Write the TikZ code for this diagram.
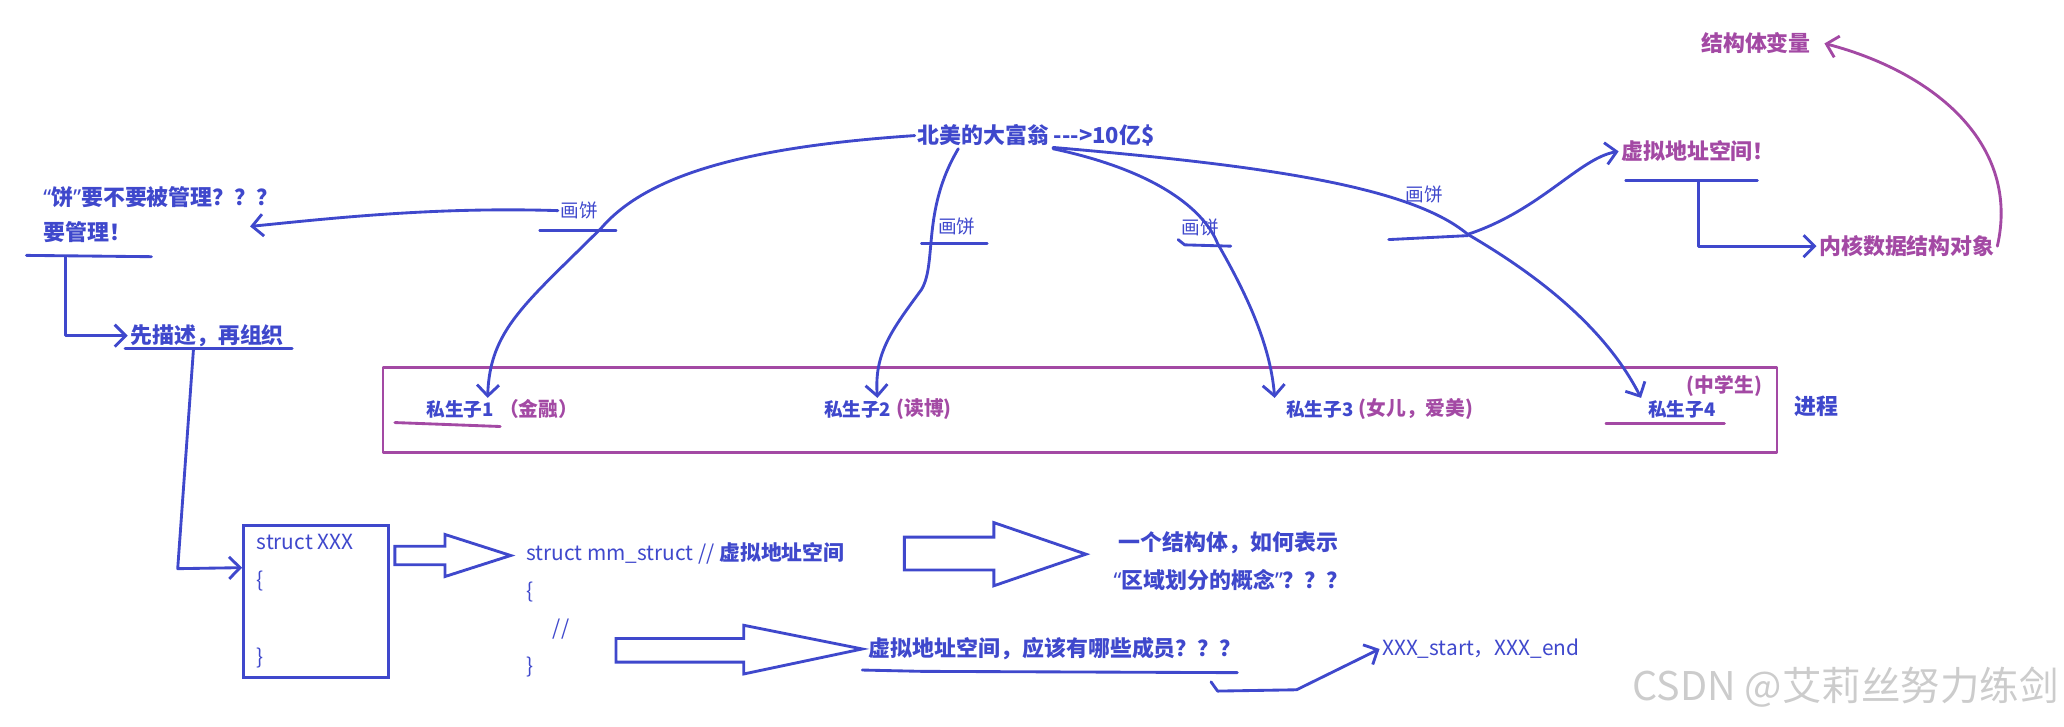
\documentclass[tikz,border=0pt]{standalone}
\usepackage{fontspec}
\setmainfont{Noto Sans CJK SC}[Ligatures=TeXOff]
\newfontfamily\latinq{Noto Sans}
\usetikzlibrary{arrows.meta,positioning,calc}
\definecolor{inkblue}{RGB}{63,72,204}
\definecolor{inkpurple}{RGB}{163,73,164}

\begin{document}
\begin{tikzpicture}[
  x=0.6pt, y=-0.6pt,
  >={Straight Barb[length=5pt,width=10pt]},
  every node/.style={inner sep=1pt, font=\fontsize{10}{12}\selectfont\bfseries},
  pen/.style={draw=inkblue, line width=1.3pt, line cap=round, line join=round},
  ppen/.style={draw=inkpurple, line width=1.3pt, line cap=round, line join=round},
  btxt/.style={text=inkblue},
  ptxt/.style={text=inkpurple},
  kid/.style={text=inkblue, font=\fontsize{8.5}{10}\selectfont\bfseries},
  kidnote/.style={text=inkpurple, font=\fontsize{9}{11}\selectfont\bfseries},
  pie/.style={text=inkblue, font=\fontsize{8.5}{10}\selectfont},
  codeline/.style={text=inkblue, anchor=west, font=\fontsize{9.5}{11}\selectfont},
  hollow/.style={draw=inkblue, line width=1.3pt, line join=miter}
]
  \useasboundingbox (0,0) rectangle (1568,552);

  % top: the rich man and his promises
  \node[btxt] (rich) at (787,103) {北美的大富翁 --->10亿\$};
  \node[pie] (pie1) at (440,160) {画饼};
  \node[pie] (pie2) at (727,172) {画饼};
  \node[pie] (pie3) at (912,173) {画饼};
  \node[pie] (pie4) at (1082,148) {画饼};
  \draw[pen] (410,175) -- (468,175);
  \draw[pen] (700,185) -- (750,185);
  \draw[pen] (895,182) -- (900,186) -- (935,187);
  \draw[pen] (1055,182) -- (1115,179);

  % left column
  \node[btxt, anchor=west] (q1) at (31,150) {{\latinq “}饼{\latinq ”}要不要被管理？？？};
  \node[btxt, anchor=west] (q2) at (31,176) {要管理！};
  \coordinate (q1tip) at (190,172);
  \draw[pen] (20,194) -- (115,195);
  \coordinate (qu) at (50,195);
  \node[btxt, anchor=west] (desc) at (97,255) {先描述，再组织};
  \draw[pen] (95,265) -- (222,265);
  \coordinate (du) at (147,265);

  % the process frame
  \draw[ppen] (291,279) rectangle (1350,344);
  \node[btxt] (proc) at (1380,309) {进程};
  \node[kid, anchor=west] (k1) at (322,311) {私生子1};
  \node[kidnote, right=0pt of k1] (k1n) {（金融）};
  \node[kid, anchor=west] (k2) at (624,311) {私生子2};
  \node[kidnote, right=0pt of k2] (k2n) {(读博)};
  \node[kid, anchor=west] (k3) at (975,311) {私生子3};
  \node[kidnote, right=0pt of k3] (k3n) {(女儿，爱美)};
  \node[kid, anchor=west] (k4) at (1250,311) {私生子4};
  \node[kidnote] (k4n) at (1310,293) {(中学生)};
  \draw[ppen] (300,321) -- (380,324);
  \draw[ppen] (1220,322) -- (1310,322);

  % right top
  \node[ptxt] (vas) at (1290,115) {虚拟地址空间！};
  \draw[pen] (1235,137) -- (1335,137);
  \coordinate (vu) at (1290,138);
  \node[ptxt, anchor=west] (kobj) at (1380,187) {内核数据结构对象};
  \node[ptxt] (svar) at (1334,33) {结构体变量};
  \coordinate (fork) at (1115,178);

  % bottom: structs
  \node[draw=inkblue, line width=1.3pt, minimum width=66pt, minimum height=69pt, inner sep=0pt] (sxbox) at (240,457) {};
  \node[codeline] (sxa) at (193,412) {struct XXX};
  \node[codeline] (sxb) at (193,441) {\{};
  \node[codeline] (sxc) at (193,500) {\}};
  \node[codeline] (mma) at (398,420) {struct mm\_struct // {\bfseries 虚拟地址空间}};
  \node[codeline] (mmb) at (398,450) {\{};
  \node[codeline] (mmc) at (418,478) {//};
  \node[codeline] (mmd) at (398,507) {\}};
  \node[btxt, anchor=west] (t1) at (848,412) {一个结构体，如何表示};
  \node[btxt, anchor=west] (t2) at (844,441) {{\latinq “}区域划分的概念{\latinq ”}？？？};
  \node[btxt, anchor=west] (mem) at (658,493) {虚拟地址空间，应该有哪些成员？？？};
  \draw[pen] (655,509) -- (700,510) -- (940,511);
  \coordinate (mu) at (920,518);
  \node[codeline] (se) at (1048,493) {XXX\_start，XXX\_end};

  % hollow arrows
  \draw[hollow] (300,415) -- (338,415) -- (338,406) -- (388,422) -- (338,438) -- (338,429) -- (300,429) -- cycle;
  \draw[hollow] (687,408) -- (755,408) -- (755,397) -- (825,421) -- (755,445) -- (755,433) -- (687,433) -- cycle;
  \draw[hollow] (468,485) -- (565,485) -- (565,475) -- (655,493) -- (565,512) -- (565,503) -- (468,503) -- cycle;

  % connectors
  \draw[pen,->] (pie1.west) .. controls (330,157) and (250,166) .. (q1tip);
  \draw[pen,->] (qu) |- (desc.west);
  \draw[pen,->] (du) -- (135,432) -- ($(sxbox.north west)!0.28!(sxbox.south west)$);
  \draw[pen,->] (rich.west) .. controls (560,112) and (490,135) .. (457,173)
    .. controls (400,230) and (372,250) .. ([xshift=-4pt]k1.north east);
  \draw[pen,->] (728,113) .. controls (700,160) and (712,200) .. (700,220)
    .. controls (678,250) and (664,268) .. ([xshift=9pt]k2.north);
  \draw[pen,->] (800,113) .. controls (880,130) and (915,160) .. (925,185)
    .. controls (945,220) and (965,260) .. ([xshift=-4pt]k3.north west);
  \draw[pen] (800,112) .. controls (950,125) and (1070,140) .. (fork);
  \draw[pen,->] (fork) .. controls (1170,160) and (1200,120) .. (vas.west);
  \draw[pen,->] (fork) .. controls (1170,210) and (1220,250) .. ([xshift=-2pt]k4.north west);
  \draw[pen,->] (vu) |- (kobj.west);
  \draw[ppen,->] (kobj.east) .. controls (1535,110) and (1470,55) .. ([xshift=5pt]svar.east);
  \draw[pen,->] (mu) -- (925,525) -- (985,524) -- (se.west);

  % watermark
  \node[anchor=east, text=gray!40, font=\fontsize{18}{20}\selectfont] (wm) at (1566,522) {CSDN @艾莉丝努力练剑};
\end{tikzpicture}
\end{document}
